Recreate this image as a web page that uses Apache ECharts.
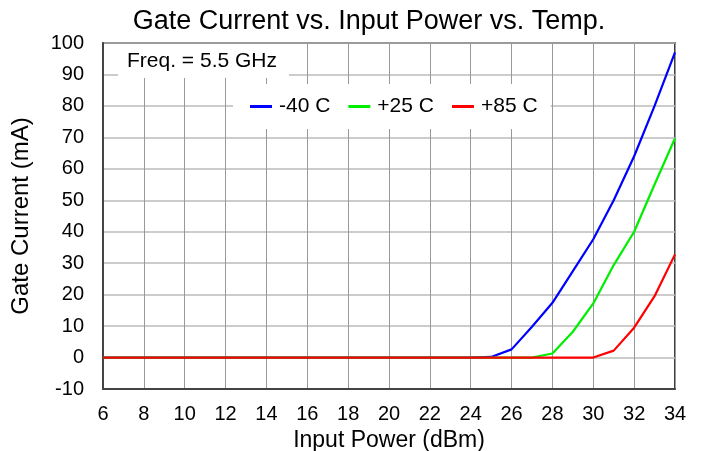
<!DOCTYPE html>
<html>
<head>
<meta charset="utf-8">
<script src="https://cdn.jsdelivr.net/npm/echarts@6/dist/echarts.min.js"></script>
<style>
  html, body { margin: 0; padding: 0; background: #fff; }
  #chart { width: 703px; height: 451px; }
</style>
</head>
<body>
<div id="chart"></div>
<script>
// input power (dBm)
const inputPower = [6, 7, 8, 9, 10, 11, 12, 13, 14, 15, 16, 17, 18, 19, 20,
  21, 22, 23, 24, 25, 26, 27, 28, 29, 30, 31, 32, 33, 34];
// gate current (mA)
const currentM40 = [0, 0, 0, 0, 0, 0, 0, 0, 0, 0, 0, 0, 0, 0, 0,
  0, 0, 0, 0, 0.2, 2.6, 9.8, 17.4, 27.5, 37.6, 50, 64, 80, 97];
const currentP25 = [0, 0, 0, 0, 0, 0, 0, 0, 0, 0, 0, 0, 0, 0, 0,
  0, 0, 0, 0, 0, 0, 0, 1.3, 8.2, 17.2, 29.4, 40, 55, 69.7];
const currentP85 = [0, 0, 0, 0, 0, 0, 0, 0, 0, 0, 0, 0, 0, 0, 0,
  0, 0, 0, 0, 0, 0, 0, 0, 0, 0, 2.2, 9.5, 19.5, 32.8];
const seriesNames = ['-40 C', '+25 C', '+85 C'];
const seriesColors = ['#0000ff', '#00ee00', '#ff0000'];

function pairs(ys) {
  return inputPower.map(function (x, i) { return [x, ys[i]]; });
}

const font = 'Liberation Sans, Arial, sans-serif';
const chart = echarts.init(document.getElementById('chart'));

chart.setOption({
  backgroundColor: '#fff',
  animation: false,
  textStyle: {fontFamily: font},
  title: [
    {
      text: 'Gate Current vs. Input Power vs. Temp.',
      left: 369,
      textAlign: 'center',
      top: 8,
      padding: 0,
      textStyle: {fontFamily: font, fontSize: 27, fontWeight: 'normal', color: '#000'}
    },
    {
      text: 'Freq. = 5.5 GHz',
      left: 118,
      top: 44,
      padding: [7, 12, 6, 9],
      backgroundColor: '#fff',
      textStyle: {fontFamily: font, fontSize: 21, fontWeight: 'normal', color: '#000'}
    }
  ],
  legend: {
    data: seriesNames,
    left: 233,
    top: 84,
    padding: [12, 13, 12, 17],
    backgroundColor: '#fff',
    icon: 'rect',
    itemWidth: 22,
    itemHeight: 3,
    itemGap: 18,
    textStyle: {fontFamily: font, fontSize: 21, color: '#000', padding: [0, 0, 0, 2]}
  },
  grid: {
    left: 103,
    right: 28,
    top: 43,
    bottom: 62,
    outerBoundsMode: 'none',
    show: true,
    borderColor: '#000',
    borderWidth: 1.5
  },
  xAxis: {
    type: 'value',
    min: 6,
    max: 34,
    interval: 2,
    name: 'Input Power (dBm)',
    nameLocation: 'middle',
    nameGap: 33,
    nameTextStyle: {fontFamily: font, fontSize: 23, color: '#000'},
    axisLine: {show: true, onZero: false, lineStyle: {color: '#444', width: 2}},
    axisTick: {show: false},
    axisLabel: {fontFamily: font, fontSize: 20, color: '#000', margin: 15},
    splitLine: {show: true, lineStyle: {color: '#999', width: 1}}
  },
  yAxis: {
    type: 'value',
    min: -10,
    max: 100,
    interval: 10,
    name: 'Gate Current (mA)',
    nameLocation: 'middle',
    nameGap: 70,
    nameTextStyle: {fontFamily: font, fontSize: 24, color: '#000'},
    axisLine: {show: true, onZero: false, lineStyle: {color: '#444', width: 2}},
    axisTick: {show: false},
    axisLabel: {fontFamily: font, fontSize: 20, color: '#000', margin: 19},
    splitLine: {show: true, lineStyle: {color: '#bbb', width: 1.5}}
  },
  series: [currentM40, currentP25, currentP85].map(function (ys, i) {
    return {
      name: seriesNames[i],
      type: 'line',
      data: pairs(ys),
      symbol: 'none',
      color: seriesColors[i],
      lineStyle: {color: seriesColors[i], width: 2.2},
      z: 3 + i
    };
  })
});
</script>
</body>
</html>
